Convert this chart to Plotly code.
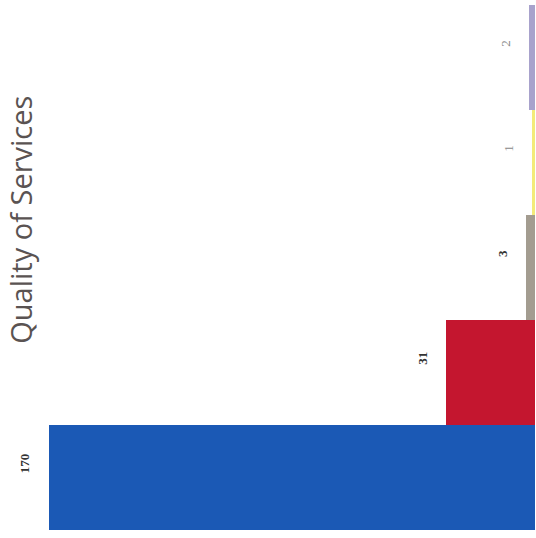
import plotly.graph_objects as go

categories = ["A", "B", "C", "D", "E"]
values = [170, 31, 3, 1, 2]
colors = ["#1B59B5", "#C4162F", "#A39C90", "#F3EB7A", "#A8A2CC"]
label_colors = ["#333333", "#333333", "#333333", "#888888", "#888888"]
title_text = "Quality of Services"

fig = go.Figure(go.Bar(
    y=categories, x=values, orientation="h",
    marker=dict(color=colors, line=dict(width=0)),
    cliponaxis=False,
))
annotations = [dict(
    text=title_text, textangle=-90, xref="paper", yref="paper",
    x=0, y=0.59, showarrow=False, xanchor="left", yanchor="middle",
    borderpad=0,
    font=dict(family="Open Sans", size=29, color="#5A5352"),
)]
for i, (cat, val, lc) in enumerate(zip(categories, values, label_colors)):
    label = f"<b>{val}</b>" if i < 3 else str(val)
    annotations.append(dict(
        x=val, y=cat, xref="x", yref="y", text=label, textangle=-90,
        showarrow=False, xanchor="center", yanchor="middle", xshift=-24, yshift=14,
        font=dict(family="Liberation Serif", size=13, color=lc),
    ))
fig.update_layout(
    width=536, height=538,
    margin=dict(l=0, r=1, t=5, b=8),
    paper_bgcolor="white", plot_bgcolor="white",
    bargap=0, showlegend=False,
    xaxis=dict(range=[187, 0], visible=False),
    yaxis=dict(range=[-0.5, 4.5], visible=False),
    annotations=annotations,
)
fig.write_html("out.html")
